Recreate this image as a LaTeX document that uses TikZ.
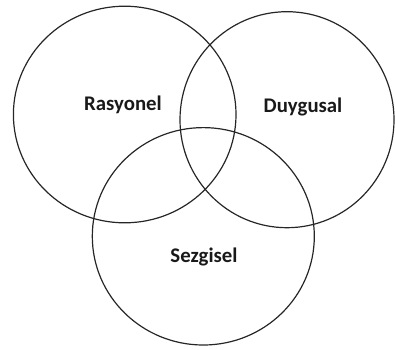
\documentclass[tikz,border=0pt]{standalone}
\usepackage{fontspec}
\setmainfont{Carlito}
\begin{document}
\begin{tikzpicture}[x=1pt,y=-1pt,
  ring/.style={draw=black!85,line width=1.2pt},
  lbl/.style={font=\fontsize{20.8}{23}\selectfont\bfseries,text=black!90,inner sep=0pt}]
\useasboundingbox (0,0) rectangle (395,349);
\draw[ring] (124.7,114.5) ellipse [x radius=111.3, y radius=108.3];
\draw[ring] (287,119.7) ellipse [x radius=107, y radius=108];
\draw[ring] (203.3,236.3) ellipse [x radius=111, y radius=108.7];
\node[lbl] (r) at (123,105) {Rasyonel};
\node[lbl] (d) at (303,107) {Duygusal};
\node[lbl] (s) at (204,257) {Sezgisel};
\end{tikzpicture}
\end{document}
